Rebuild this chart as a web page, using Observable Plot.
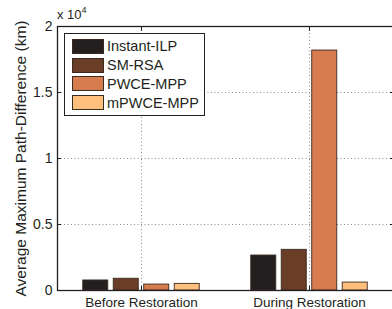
<!DOCTYPE html>
<html><head><meta charset="utf-8">
<script src="https://cdn.jsdelivr.net/npm/d3@7"></script>
<script src="https://cdn.jsdelivr.net/npm/@observablehq/plot@0.6"></script>
<style>
body{margin:0;background:#fff;font-family:"Liberation Sans",Arial,Helvetica,sans-serif;}
#wrap{position:relative;width:392px;height:309px;overflow:hidden;background:#fff}
#wrap svg{position:absolute;left:0;top:0}
#legend{position:absolute;left:64px;top:33px;width:139px;height:78px;border:1.2px solid #231f20;background:#fff;padding-top:3px;box-sizing:content-box}
.row{height:18.8px;display:flex;align-items:center;font-size:14.5px;color:#231f20;white-space:nowrap}
.sw{width:30px;height:13px;border:1px solid #3a2b22;margin-left:7px;margin-right:3px;flex:none}
#expo{position:absolute;left:57px;top:6px;font-size:13px;color:#231f20}
#expo sup{font-size:9px;position:relative;top:-1px}
</style></head><body><div id="wrap"></div>
<script>
const categories = ["Before Restoration", "During Restoration"];
const seriesNames = ["Instant-ILP", "SM-RSA", "PWCE-MPP", "mPWCE-MPP"];
const seriesColors = ["#231f20", "#6a3e26", "#d67c4f", "#fdc07c"];
const instantILP = [760, 2650];
const smRSA = [890, 3080];
const pwceMPP = [450, 18180];
const mpwceMPP = [500, 600];
const yTicks = [0, 5000, 10000, 15000, 20000];
const yTickLabels = ["0", "0.5", "1", "1.5", "2"];
const yLabel = "Average Maximum Path-Difference (km)";

const seriesValues = [instantILP, smRSA, pwceMPP, mpwceMPP];
const step = 0.1815, half = 0.0745;
const rows = [];
categories.forEach((c, i) => {
  seriesValues.forEach((vals, j) => {
    const center = i + 1 + (j - 1.5) * step;
    rows.push({cat: c, series: seriesNames[j], color: seriesColors[j], value: vals[i], x1: center - half, x2: center + half});
  });
});
const xPos = categories.map((c, i) => i + 1);
const font = '"Liberation Sans", Arial, Helvetica, sans-serif';
const grid = {stroke: "#8a8a8a", strokeDasharray: "1,2.5", strokeWidth: 1};
const blank = () => "";

const chart = Plot.plot({
  width: 392, height: 309,
  marginLeft: 57, marginRight: -1, marginTop: 26, marginBottom: 19,
  style: {fontFamily: font, fontSize: "14px", color: "#231f20", background: "transparent", overflow: "visible"},
  x: {domain: [0.5, 2.5], axis: null},
  y: {domain: [0, 20000], axis: null},
  marks: [
    Plot.ruleX(xPos, {...grid}),
    Plot.ruleY(yTicks.slice(1, -1), {...grid}),
    Plot.rectY(rows, {x1: "x1", x2: "x2", y1: 0, y2: "value", fill: "color", stroke: "#3a2b22", strokeWidth: 0.9}),
    Plot.axisY({ticks: yTicks, tickSize: -4, tickPadding: 9, tickFormat: d => yTickLabels[yTicks.indexOf(d)], stroke: "#231f20", fontSize: 14,
      label: yLabel, labelAnchor: "center", labelOffset: 43, labelArrow: false}),
    Plot.axisY({anchor: "right", ticks: yTicks, tickSize: -4, tickFormat: blank, label: null, stroke: "#231f20"}),
    Plot.axisX({anchor: "top", ticks: xPos, tickSize: -4, tickFormat: blank, label: null, stroke: "#231f20"}),
    Plot.axisX({anchor: "bottom", ticks: xPos, tickSize: -4, tickPadding: 11, tickFormat: d => categories[d - 1], label: null, stroke: "#231f20", fontSize: 13.5}),
    Plot.frame({stroke: "#231f20", strokeWidth: 1.3})
  ]
});
const wrap = document.getElementById("wrap");
wrap.appendChild(chart);
chart.querySelectorAll("text").forEach(t => {
  if (t.textContent === yLabel) t.setAttribute("font-size", "15.5");
  if (t.textContent.trim() === "") t.remove();
});

const expo = document.createElement("div");
expo.id = "expo";
expo.innerHTML = "x 10<sup>4</sup>";
wrap.appendChild(expo);

const legend = document.createElement("div");
legend.id = "legend";
seriesNames.forEach((n, j) => {
  const r = document.createElement("div");
  r.className = "row";
  const s = document.createElement("div");
  s.className = "sw";
  s.style.background = seriesColors[j];
  r.appendChild(s);
  r.appendChild(document.createTextNode(n));
  legend.appendChild(r);
});
wrap.appendChild(legend);
</script></body></html>
